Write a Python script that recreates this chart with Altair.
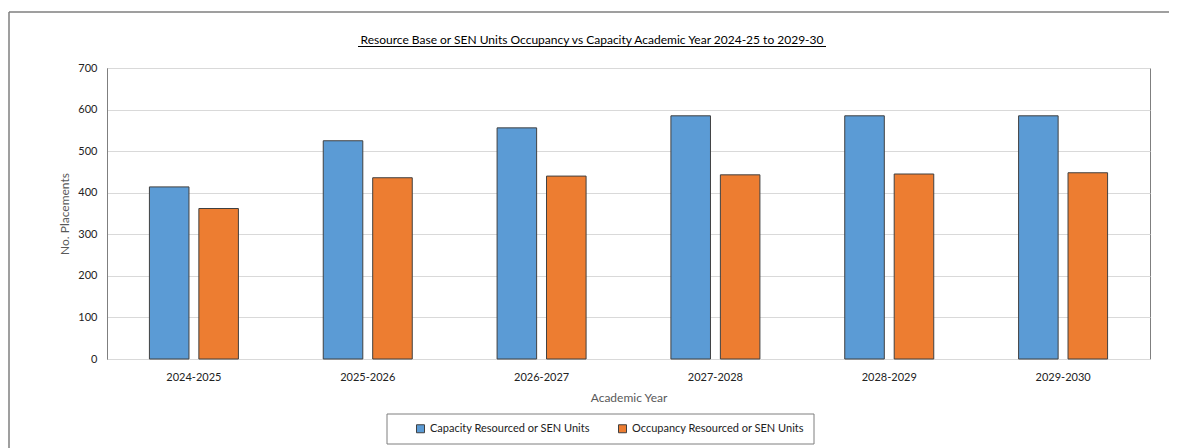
import altair as alt
import pandas as pd

years = ["2024-2025", "2025-2026", "2026-2027", "2027-2028", "2028-2029", "2029-2030"]
capacity = [414, 525, 556, 585, 585, 585]
occupancy = [362, 436, 440, 443, 445, 448]
series = ["Capacity Resourced or SEN Units", "Occupancy Resourced or SEN Units"]
colors = ["#5B9BD5", "#ED7D31"]
title_text = "Resource Base or SEN Units Occupancy vs Capacity Academic Year 2024-25 to 2029-30"

rows = []
for y, c, o in zip(years, capacity, occupancy):
    rows.append({"year": y, "series": series[0], "value": c})
    rows.append({"year": y, "series": series[1], "value": o})
df = pd.DataFrame(rows)

W, H = 1043, 291
FONT = "Lato"

bars = alt.Chart(df).mark_bar(stroke="#404040", strokeWidth=1).encode(
    x=alt.X("year:N", sort=years, title="Academic Year",
            scale=alt.Scale(paddingInner=0.488, paddingOuter=0.244),
            axis=alt.Axis(labelAngle=0, ticks=False, domainColor="#d9d9d9",
                          labelPadding=12, titlePadding=10)),
    xOffset=alt.XOffset("series:N", sort=series,
                        scale=alt.Scale(paddingInner=0.2, paddingOuter=0)),
    y=alt.Y("value:Q", title="No. Placements",
            scale=alt.Scale(domain=[0, 700]),
            axis=alt.Axis(values=list(range(0, 701, 100)), ticks=False,
                          domainColor="#7f7f7f", labelPadding=10, titlePadding=6)),
    color=alt.Color("series:N", sort=series,
                    scale=alt.Scale(domain=series, range=colors),
                    legend=alt.Legend(title=None, orient="none", direction="horizontal",
                                      legendX=308, legendY=355,
                                      symbolType="square", symbolSize=64,
                                      symbolStrokeColor="#404040", symbolStrokeWidth=1,
                                      labelFontSize=11, labelColor="#222",
                                      labelFont=FONT, labelOffset=4, labelLimit=0,
                                      columnPadding=26, padding=0)),
)

one = pd.DataFrame({"a": [0]})

title_mark = alt.Chart(one).mark_text(
    font=FONT, fontSize=12, color="#000", align="center", baseline="alphabetic"
).encode(x=alt.value(485), y=alt.value(-24), text=alt.value(title_text))

underline = alt.Chart(one).mark_rule(color="#000", strokeWidth=1).encode(
    x=alt.value(251), x2=alt.value(719), y=alt.value(-21.5)
)

outer_top = alt.Chart(one).mark_rule(color="#7f7f7f", strokeWidth=1.5).encode(
    x=alt.value(-98), x2=alt.value(W + 80), y=alt.value(-56)
)
outer_left = alt.Chart(one).mark_rule(color="#7f7f7f", strokeWidth=1.5).encode(
    x=alt.value(-98), y=alt.value(-56), y2=alt.value(H + 120)
)

legend_box = alt.Chart(one).mark_rect(fill=None, stroke="#7f7f7f", strokeWidth=1).encode(
    x=alt.value(280), x2=alt.value(707), y=alt.value(346), y2=alt.value(376)
)

chart = alt.layer(outer_top, outer_left, bars, title_mark, underline, legend_box).properties(
    width=W, height=H,
    autosize=alt.AutoSizeParams(type="none"),
    padding={"left": 99, "top": 60, "right": 19, "bottom": 89},
).configure_view(
    stroke="#7f7f7f", strokeWidth=1
).configure_axis(
    labelFont=FONT, titleFont=FONT, labelFontSize=11, titleFontSize=12,
    labelColor="#222", titleColor="#595959", titleFontWeight="normal",
    gridColor="#d9d9d9", gridWidth=1
).configure_axisX(grid=False)

chart.save("out.html", embed_options={"renderer": "svg", "actions": False})
